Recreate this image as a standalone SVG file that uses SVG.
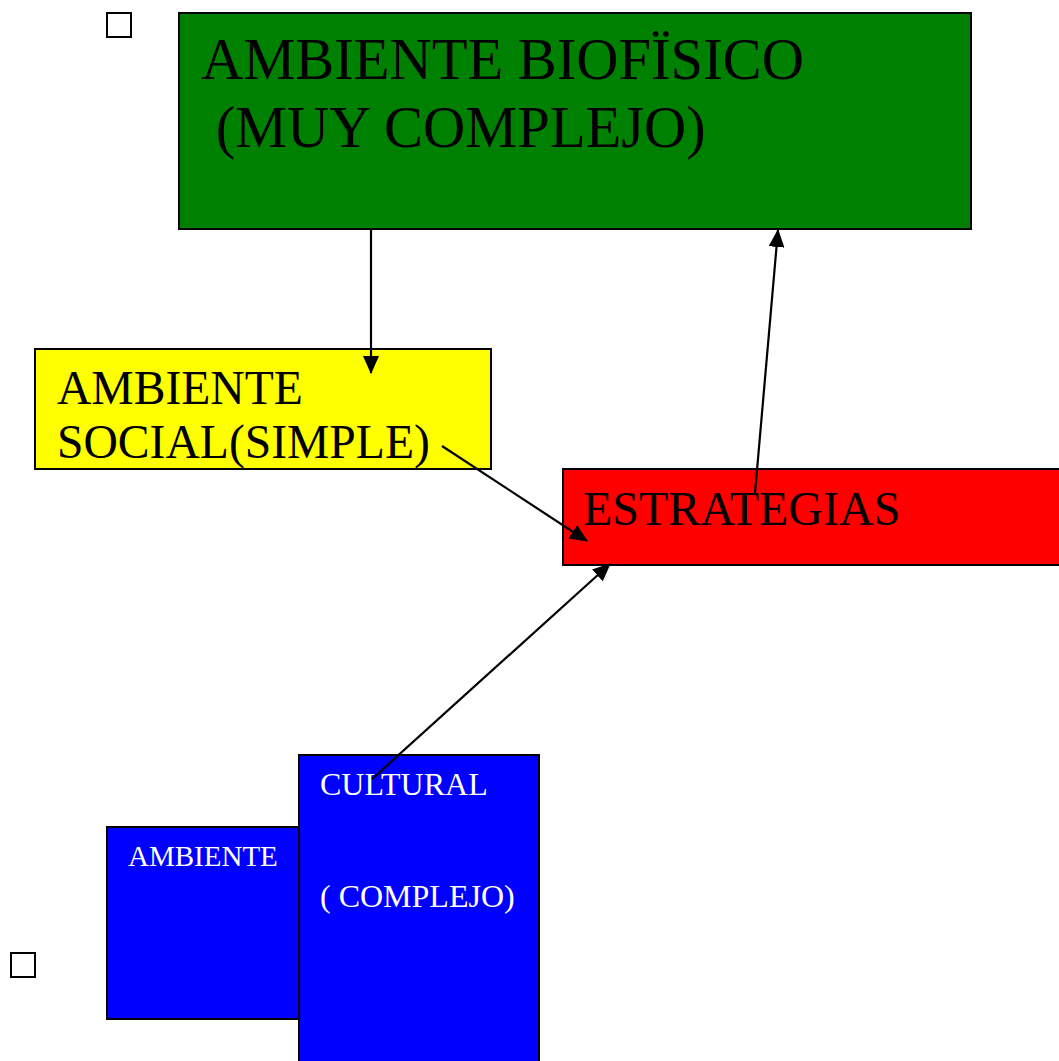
<svg xmlns="http://www.w3.org/2000/svg" width="1059" height="1061" viewBox="0 0 1059 1061">
<style>
.box{stroke:#000;stroke-width:2}
.chk{fill:#fff;stroke:#000;stroke-width:2}
.t{font-family:"Liberation Serif","Times New Roman",serif;fill:#000}
.w{font-family:"Liberation Serif","Times New Roman",serif;fill:#fff}
.c{stroke:#000;stroke-width:2.2;fill:none;marker-end:url(#ah)}
</style>
<defs>
<marker id="ah" markerUnits="userSpaceOnUse" markerWidth="18" markerHeight="16" refX="17" refY="8" orient="auto" viewBox="0 0 18 16">
<path d="M0,0 L18,8 L0,16 z" fill="#000"/>
</marker>
</defs>
<rect class="chk" x="107" y="13" width="24" height="24"/>
<rect class="chk" x="11" y="953" width="24" height="24"/>
<g id="biofisico">
<rect class="box" x="179" y="13" width="792" height="216" fill="#008000"/>
<text class="t" font-size="58.5" xml:space="preserve"><tspan x="201" y="79">AMBIENTE BIOFÏSICO</tspan><tspan x="201" y="147"> (MUY COMPLEJO)</tspan></text>
</g>
<g id="social">
<rect class="box" x="35" y="349" width="456" height="120" fill="#ffff00"/>
<text class="t" font-size="47.6"><tspan x="57" y="404">AMBIENTE</tspan><tspan x="57" y="458">SOCIAL(SIMPLE)</tspan></text>
</g>
<g id="estrategias">
<rect class="box" x="563" y="469" width="520" height="96" fill="#ff0000"/>
<text class="t" font-size="48" x="583" y="525">ESTRATEGIAS</text>
</g>
<g id="ambiente">
<rect class="box" x="107" y="827" width="192" height="192" fill="#0000ff"/>
<text class="w" font-size="29" x="128" y="866">AMBIENTE</text>
</g>
<g id="cultural">
<rect class="box" x="299" y="755" width="240" height="330" fill="#0000ff"/>
<text class="w" font-size="32" x="320" y="795">CULTURAL</text>
<text class="w" font-size="32" x="320" y="907">( COMPLEJO)</text>
</g>
<g id="connectors">
<line class="c" x1="371" y1="229" x2="371" y2="373"/>
<line class="c" x1="442" y1="446" x2="587" y2="541"/>
<line class="c" x1="755" y1="493" x2="778" y2="230"/>
<line class="c" x1="372" y1="779" x2="610" y2="564"/>
</g>
</svg>
